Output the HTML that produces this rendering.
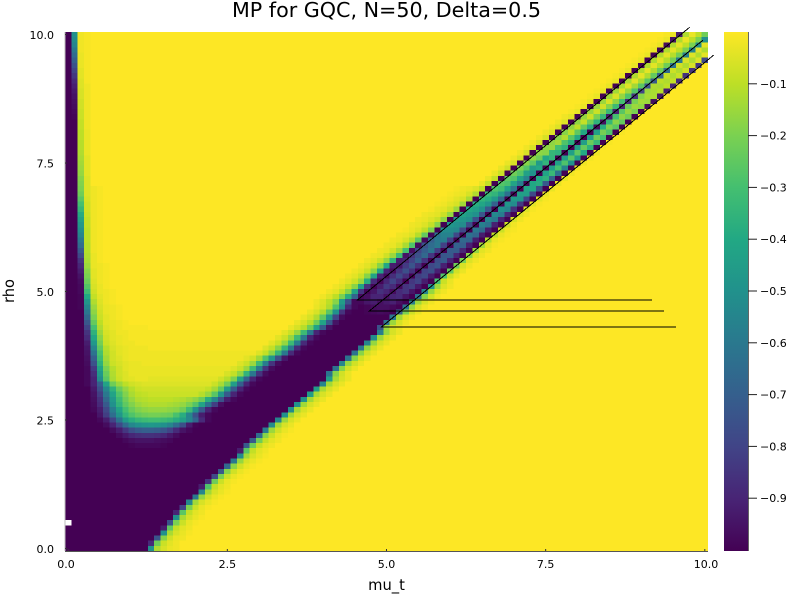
<!DOCTYPE html>
<html lang="en">
<head>
<meta charset="utf-8">
<title>MP for GQC, N=50, Delta=0.5</title>
<style>
html,body{margin:0;padding:0;background:#fff;width:800px;height:600px;overflow:hidden}
svg{display:block}
text{font-family:"DejaVu Sans","Liberation Sans",sans-serif;fill:#000}
</style>
</head>
<body>
<svg id="chart" xmlns="http://www.w3.org/2000/svg" width="800" height="600" viewBox="0 0 800 600">
<defs><linearGradient id="cbGrad" x1="0" y1="1" x2="0" y2="0"></linearGradient></defs>
<rect x="0" y="0" width="800" height="600" fill="#fff"/>
<text x="386.500" y="17" font-size="20.670" text-anchor="middle">MP for GQC, N=50, Delta=0.5</text>
<text x="386.500" y="590" font-size="14.700" text-anchor="middle">mu_t</text>
<text x="14" y="291" font-size="14.700" text-anchor="middle" transform="rotate(-90 14 291)">rho</text>
<g id="cells" shape-rendering="crispEdges"></g>
<g id="axes"></g>
<g id="lines" shape-rendering="crispEdges"></g>
<g id="colorbar"></g>
</svg>
<script>
// Axis ticks
const muTicks = [0, 2.5, 5, 7.5, 10];
const rhoTicks = [0, 2.5, 5, 7.5, 10];
const colorTicks = [-0.1, -0.2, -0.3, -0.4, -0.5, -0.6, -0.7, -0.8, -0.9];

// Grid coordinates
const muStep = 0.1;
const rhoStep = 0.1;
const gridCols = 101;

// Overlay line series (mu_t, rho)
const lineAMu = [9.17, 4.54, 9.76];
const lineARho = [4.83, 4.83, 10.14];
const lineBMu = [9.36, 4.73, 9.97];
const lineBRho = [4.62, 4.62, 9.89];
const lineCMu = [9.55, 4.92, 10.14];
const lineCRho = [4.31, 4.31, 9.60];

// Heatmap values in hundredths, row per rho (bottom first). [n,v] = n cells of v; missing tail = 0; null = no data.
const heatRows = [
[[13,-100],-50,-12,-6,-3,-2],
[[13,-100],-88,-22,-8,-4,-2],
[[14,-100],-74,-18,-7,-3,-2],
[[15,-100],-50,-13,-6,-3,-1],
[[15,-100],-92,-25,-9,-4,-2],
[null,[15,-100],-75,-20,-8,-3,-1],
[[17,-100],-50,-13,-6,-3,-1],
[[17,-100],-90,-26,-9,-4,-2],
[[18,-100],-80,-20,-8,-3,-1],
[[19,-100],-55,-14,-6,-3,-1],
[[20,-100],-60,-16,-7,-3,-1],
[[21,-100],-55,-14,-6,-3,-1],
[[21,-100],-92,-28,-9,-4,-2],
[[22,-100],-85,-22,-8,-3,-1],
[[23,-100],-78,-20,-8,-3,-1],
[[24,-100],-72,-18,-7,-3,-1],
[[25,-100],-66,-17,-7,-3,-1],
[[26,-100],-60,-16,-6,-3,-1],
[[27,-100],-52,-14,-6,-3,-1],
[[27,-100],-92,-26,-9,-4,-2],
[[10,-100],-99,-98,-98,-98,-98,-99,[12,-100],-72,-22,-9,-4,-2],
[[9,-100],-98,-96,-95,-95,-95,-96,-97,-98,[12,-100],-72,-22,-9,-4,-2],
[[8,-100],-97,-93,-89,-87,-86,-86,-87,-89,-93,-97,[12,-100],-65,-18,-8,-3,-1],
[[7,-100],-97,-92,-84,-76,-72,-70,-70,-71,-74,-80,-88,-95,-98,[11,-100],-58,-15,-7,-3,-1],
[[6,-100],-97,-90,-78,-65,-54,-50,-48,-47,-48,-50,-55,-64,-76,-92,-99,[11,-100],-52,-14,-6,-3],
[[5,-100],-98,-92,-80,-62,-46,-38,-34,-32,-31,-31,-32,-34,-38,-44,-54,-68,-88,-98,[10,-100],-55,-15,-6,-3],
[[5,-100],-94,-82,-64,-48,-35,-28,-24,-22,-21,-21,-22,-23,-29,-38,-55,-75,-92,-98,[11,-100],-50,-14,-6,-3],
[[4,-100],-98,-92,-78,-58,-42,-30,-23,-19,-17,-16,-16,-16,-17,-18,-22,-32,-50,-72,-90,-98,[11,-100],-52,-14,-6,-3],
[[4,-100],-97,-88,-72,-50,-35,-25,-19,-15,-13,-12,-12,-12,-13,-14,-16,-20,-27,-42,-62,-82,-96,[11,-100],-50,-14,-6,-3],
[[4,-100],-96,-86,-66,-47,-32,-22,-16,-12,-11,-10,-10,-10,-10,-11,-12,-14,-17,-23,-38,-55,-75,-92,-98,[10,-100],-50,-14,-6,-3],
[[4,-100],-95,-82,-60,-42,-28,-19,-13,-10,-9,[8,-8],-11,-16,-26,-48,-72,-90,-98,[10,-100],-45,-13,-6,-3],
[[4,-100],-93,-76,-54,-36,-23,-16,-11,-8,-7,[9,-7],-9,-14,-24,-46,-72,-90,-98,[10,-100],-45,-13,-6,-3],
[[3,-100],-98,-90,-70,-42,-22,-15,-10,-7,-6,-5,[10,-5],-8,-13,-22,-45,-70,-90,-98,[10,-100],-55,-14,-6,-3],
[[3,-100],-98,-90,-52,-26,-13,-8,-5,-4,-3,-3,[11,-4],-7,-11,-20,-42,-68,-90,-98,[10,-100],-45,-13,-6,-3],
[[3,-100],-98,-87,-47,-23,-12,-7,-5,-3,-3,-3,[12,-3],-6,-9,-17,-35,-60,-85,-97,[9,-100],-62,-18,-7,-3],
[[3,-100],-98,-83,-42,-20,-11,-7,-4,-3,-3,-3,[13,-3],-5,-8,-15,-32,-58,-85,-97,[9,-100],-62,-18,-7,-3],
[[3,-100],-97,-75,-36,-16,-8,-6,-4,-3,-3,-2,[14,-2],-5,-8,-15,-32,-58,-85,-97,[9,-100],-55,-16,-7,-3],
[[3,-100],-96,-70,-32,-14,-7,-5,-3,-2,-2,-2,[15,-2],-4,-7,-14,-28,-48,-75,-94,[9,-100],-62,-18,-7,-3],
[[3,-100],-95,-62,-29,-12,-7,-4,-3,-2,-2,-2,[17,-2],-5,-9,-18,-34,-60,-88,-98,[8,-100],-62,-18,-7,-3],
[[3,-100],-94,-55,-25,-11,-6,-4,-3,-2,-2,-2,[18,-1],-5,-9,-18,-34,-60,-88,-98,[8,-100],-60,-17,-7,-3],
[[3,-100],-92,-47,-21,-8,-5,-3,-2,-2,-1,-1,[19,-1],-4,-8,-16,-32,-58,-88,-98,[8,-100],-55,-16,-6,-3],
[[3,-100],-88,-41,-18,-7,-4,-3,-2,-1,-1,-1,[20,-1],-4,-8,-16,-32,-60,-90,-98,[8,-100],-52,-15,-6,-3],
[[3,-100],-85,-36,-15,-6,-4,-2,-2,-1,-1,-1,[21,-1],-4,-8,-16,-32,-60,-90,-98,[8,-100],-58,-16,-6,-3],
[[3,-100],-80,-30,-12,-5,-3,-2,-1,-1,-1,-1,[22,0],-3,-6,-11,-22,-42,-72,-95,[7,-100],-75,-15,-6,-3],
[[3,-100],-73,-24,-10,-4,-3,-2,-1,[26,0],-3,-6,-11,-22,-42,-72,-95,[7,-100],-62,-15,-6,-2],
[[3,-100],-67,-20,-8,-4,-2,-1,[28,0],-3,-6,-12,-25,-48,-80,-97,[7,-100],-60,-14,-5,-2],
[[3,-100],-60,-17,-7,-3,-2,-1,[29,0],-3,-6,-12,-26,-50,-85,-98,-100,-100,-99,-98,-97,-98,-100,-70,-20,-7,-3],
[[2,-100],-99,-55,-15,-6,-3,-2,-1,[30,0],-3,-6,-12,-28,-52,-88,-98,-100,-99,-97,-96,-96,-98,-100,-62,-16,-6,-2],
[[2,-100],-99,-48,-12,-5,-2,-1,[31,0],-2,-5,-10,-18,-45,-75,-98,-98,-94,-92,-96,-93,-91,-96,-100,-58,-15,-6,-2],
[[2,-100],-99,-40,-9,-4,-2,-1,[32,0],-2,-5,-10,-20,-38,-68,-98,-96,-90,-90,-96,-90,-88,-95,-100,-62,-18,-7,-2],
[[2,-100],-98,-32,-7,-3,-2,-1,[33,0],-2,-4,-9,-18,-42,-85,-99,-94,-86,-90,-97,-88,-85,-94,-100,-55,-16,-6,-2],
[[2,-100],-98,-27,-6,-3,-1,[35,0],-2,-4,-9,-18,-42,-85,-99,-92,-83,-88,-98,-85,-82,-93,-100,-50,-15,-5,-2],
[[2,-100],-97,-23,-5,-2,-1,[36,0],-2,-4,-8,-16,-38,-88,-99,-89,-80,-88,-100,-84,-80,-92,-100,-30,-8,-3],
[[2,-100],-95,-20,-4,-2,-1,[37,0],-2,-4,-8,-18,-42,-90,-98,-87,-78,-87,-100,-82,-78,-92,-100,-28,-8,-3],
[[2,-100],-92,-18,-4,-2,-1,[38,0],-2,-4,-8,-18,-42,-90,-97,-85,-76,-86,-100,-80,-76,-91,-100,-25,-7,-3],
[[2,-100],-89,-15,-3,-2,-1,[39,0],-2,-4,-8,-18,-40,-92,-95,-83,-74,-86,-100,-78,-74,-91,-100,-22,-6,-2],
[[2,-100],-85,-13,-3,-1,[41,0],-2,-4,-8,-16,-35,-92,-90,-80,-70,-85,-100,-76,-72,-90,-100,-20,-5,-2],
[[2,-100],-78,-12,-3,-1,[42,0],-2,-3,-7,-15,-32,-95,-85,-75,-66,-84,-100,-73,-72,-90,-100,-18,-5,-2],
[[2,-100],-72,-11,-2,-1,[43,0],-2,-3,-7,-14,-30,-96,-80,-70,-62,-82,-100,-71,-71,-90,-100,-16,-4,-2],
[[2,-100],-65,-11,-2,-1,[44,0],-2,-3,-6,-13,-28,-97,-75,-65,-60,-81,-100,-69,-70,-91,-100,-14,-4,-1],
[[2,-100],-60,-10,-2,-1,[45,0],-2,-3,-6,-12,-26,-98,-70,-60,-58,-80,-100,-66,-68,-92,-100,-12,-3,-1],
[[2,-100],-55,-10,-2,-1,[46,0],-2,-3,-5,-11,-24,-98,-62,-56,-56,-78,-100,-63,-67,-92,-100,-10,-3,-1],
[[2,-100],-51,-10,-2,-1,[47,0],-1,-3,-5,-10,-20,-100,-52,-52,-54,-78,-100,-60,-66,-92,-100,-8,-2,-1],
[[2,-100],-47,-9,-2,-1,[48,0],-2,-3,-5,-9,-18,-100,-48,-50,-52,-76,-100,-57,-62,-91,-100,-7,-2],
[[2,-100],-43,-9,-2,-1,[49,0],-2,-3,-5,-8,-17,-100,-46,-48,-51,-75,-100,-55,-60,-90,-100,-6,-2],
[[2,-100],-39,-8,-2,-1,[50,0],-2,-3,-4,-8,-16,-100,-43,-46,-50,-73,-100,-53,-58,-88,-100,-5,-2],
[[2,-100],-34,-7,-2,-1,[51,0],-1,-3,-4,-7,-15,-100,-41,-44,-50,-72,-100,-50,-55,-86,-100,-5,-1],
[[2,-100],-30,-7,-2,-1,[52,0],-1,-2,-4,-6,-14,-100,-38,-41,-48,-69,-100,-48,-52,-83,-100,-4,-1],
[[2,-100],-26,-6,-2,-1,[53,0],-1,-2,-4,-6,-13,-100,-35,-38,-46,-66,-100,-46,-48,-80,-100,-4,-1],
[[2,-100],-22,-5,-2,-1,[54,0],-1,-2,-3,-6,-12,-100,-32,-35,-45,-63,-100,-44,-44,-78,-100,-3],
[[2,-100],-20,-5,-2,-1,[55,0],-1,-2,-3,-5,-10,-100,-28,-31,-43,-60,-100,-42,-40,-75,-100,-3],
[[2,-100],-19,-5,[61,0],-3,-9,-100,-27,-29,-42,-58,-100,-40,-38,-72,-100,-3],
[[2,-100],-18,-5,[62,0],-3,-9,-100,-25,-28,-42,-55,-100,-40,-36,-68,-100,-3],
[[2,-100],-16,-4,[63,0],-3,-8,-100,-22,-27,-43,-50,-100,-42,-33,-62,-100,-2],
[[2,-100],-15,-4,[64,0],-3,-7,-100,-20,-27,-45,-40,-100,-45,-30,-55,-100,-2],
[[2,-100],-14,-4,[65,0],-3,-6,-100,-18,-26,-46,-35,-100,-44,-28,-50,-100,-2],
[[2,-100],-13,-4,[66,0],-2,-6,-100,-17,-22,-40,-35,-100,-44,-26,-45,-100,-2],
[[2,-100],-12,-3,[67,0],-2,-6,-100,-17,-18,-34,-36,-100,-44,-25,-40,-100,-2],
[[2,-100],-11,-3,[68,0],-2,-6,-100,-17,-16,-30,-36,-100,-44,-24,-36,-100,-1],
[[2,-100],-11,-3,[69,0],-2,-6,-100,-17,-14,-28,-38,-100,-44,-23,-33,-100,-1],
[[2,-100],-10,-3,[70,0],-2,-6,-100,-18,-12,-26,-40,-100,-44,-22,-30,-100,-1],
[[2,-100],-10,-3,[71,0],-2,-5,-100,-18,-11,-25,-40,-100,-42,-21,-28,-100,-1],
[[2,-100],-9,-2,[72,0],-2,-5,-100,-17,-10,-24,-38,-98,-38,-20,-26,-100,-1],
[[2,-100],-9,-2,[73,0],-2,-5,-100,-17,-9,-22,-36,-96,-34,-18,-24,-100],
[-100,-99,-8,-2,[74,0],-2,-4,-100,-16,-8,-20,-34,-94,-30,-17,-22,-100],
[-100,-98,-8,-2,[75,0],-1,-3,-100,-16,-8,-19,-33,-92,-26,-16,-20,-100],
[-100,-97,-7,-2,[76,0],-1,-3,-100,-15,-7,-18,-32,-90,-22,-15,-17,-98],
[-100,-96,-7,-2,[77,0],-1,-3,-100,-15,-6,-17,-30,-88,-20,-14,-15,-96],
[-100,-95,-6,-2,[78,0],-1,-3,-100,-14,-6,-16,-28,-85,-18,-13,-13,-94],
[-100,-93,-6,-2,[79,0],-1,-3,-100,-14,-5,-15,-27,-80,-15,-13,-11,-92],
[-100,-91,-5,-2,[80,0],-1,-3,-100,-13,-5,-14,-26,-75,-12,-13,-10,-90],
[-100,-88,-5,-1,[81,0],-1,-3,-100,-13,-4,-13,-25,-72,-10,-12,-9,-88],
[-100,-84,-4,-1,[82,0],-1,-3,-100,-12,-4,-12,-24,-68,-9,-12,-8,-86],
[-100,-80,-4,-1,[83,0],-1,-3,-100,-12,-4,-12,-23,-65,-8,-12,-7,-85],
[-100,-75,-3,-1,[84,0],-1,-3,-100,-12,-4,-11,-22,-62,-7,-12,-6,-84],
[-100,-70,-3,-1,[85,0],-1,-3,-100,-12,-4,-11,-21,-60,-6,-12,-5,-78],
[-100,-65,-3,-1,[86,0],-1,-3,-100,-12,-4,-11,-21,-57,-5,-12,-4],
[-100,-60,-2,-1,[87,0],-1,-3,-99,-12,-4,-10,-20,-55,-5,-12],
[-100,-55,-2,-1,[88,0],-1,-3,-97,-12,-4,-10,-20,-52,-4],
[-100,-52,-2,-1,[89,0],-1,-3,-95,-12,-3,-10,-20,-50],
[-100,-50,-2,-1,[90,0],-1,-3,-92,-12,-3,-10,-22]
];

// Viridis palette stops (colour scale definition)
const viridisStops = ["#440154","#482475","#414487","#355f8d","#2a788e","#21918c","#22a884","#44bf70","#7ad151","#bddf26","#fde725"];

const SVGNS = "http://www.w3.org/2000/svg";
const plotLeft = 65, plotTop = 32, plotRight = 708, plotBottom = 551;
const cellW = (plotRight - plotLeft) / gridCols;
const cellH = (plotBottom - plotTop) / heatRows.length;
function scaleX(mu) { return plotLeft + cellW / 2 + (mu / muStep) * cellW; }
function scaleY(rho) { return plotBottom - cellH / 2 - (rho / rhoStep) * cellH; }
const cbTop = 32, cbBottom = 550;
function scaleC(v) { return cbTop + (-v) * (cbBottom - cbTop); }

function hexRgb(h) { return [parseInt(h.slice(1,3),16), parseInt(h.slice(3,5),16), parseInt(h.slice(5,7),16)]; }
function colorFor(v) {
  const t = Math.max(0, Math.min(1, 1 + v)) * (viridisStops.length - 1);
  const i = Math.min(viridisStops.length - 2, Math.floor(t));
  const f = t - i;
  const a = hexRgb(viridisStops[i]), b = hexRgb(viridisStops[i + 1]);
  return "rgb(" + a.map(function (x, k) { return Math.round(x + (b[k] - x) * f); }).join(",") + ")";
}
function expandRow(row) {
  const out = [];
  row.forEach(function (e) {
    if (Array.isArray(e)) { for (let i = 0; i < e[0]; i++) out.push(e[1]); }
    else out.push(e);
  });
  while (out.length < gridCols) out.push(0);
  return out.slice(0, gridCols);
}
function mk(tag, attrs, parent) {
  const el = document.createElementNS(SVGNS, tag);
  Object.keys(attrs).forEach(function (k) { el.setAttribute(k, attrs[k]); });
  parent.appendChild(el);
  return el;
}

// Heatmap cells
const cellsG = document.getElementById("cells");
heatRows.forEach(function (row, r) {
  expandRow(row).forEach(function (val, c) {
    if (val === null) return;
    const rect = mk("rect", {
      x: (scaleX(c * muStep) - cellW / 2).toFixed(2),
      y: (scaleY(r * rhoStep) - cellH / 2).toFixed(2),
      width: cellW.toFixed(2),
      height: cellH.toFixed(2),
      fill: colorFor(val / 100)
    }, cellsG);
    
    
  });
});

// Axes
const axesG = document.getElementById("axes");
const leftAxis = mk("line", { x1: plotLeft, y1: plotTop, x2: plotLeft, y2: plotBottom, stroke: "#bdbdbd", "stroke-width": 1 }, axesG);


const bottomAxis = mk("line", { x1: plotLeft, y1: plotBottom + 0.5, x2: plotRight, y2: plotBottom + 0.5, stroke: "#555", "stroke-width": 1 }, axesG);



muTicks.forEach(function (v) {
  const x = scaleX(v);
  const tick = mk("line", { x1: x, y1: plotBottom, x2: x, y2: plotBottom - 2, stroke: "#333", "stroke-width": 1 }, axesG);
  
  
  const label = mk("text", { x: v === 0 ? 66 : (v === 10 ? 706 : x), y: 568, "font-size": 11, "text-anchor": "middle" }, axesG);
  label.textContent = v.toFixed(1);
  
  
});
rhoTicks.forEach(function (v) {
  const y = scaleY(v);
  const tick = mk("line", { x1: plotLeft, y1: y, x2: plotLeft + 2, y2: y, stroke: "#333", "stroke-width": 1 }, axesG);
  
  
  const label = mk("text", { x: 54, y: y + 4.5, "font-size": 11, "text-anchor": "end" }, axesG);
  label.textContent = v.toFixed(1);
  
  
});

// Overlay lines
const linesG = document.getElementById("lines");
[[lineAMu, lineARho, 'overlay-line-a'], [lineBMu, lineBRho, 'overlay-line-b'], [lineCMu, lineCRho, 'overlay-line-c']].forEach(function (s) {
  const pts = s[0].map(function (m, i) { return scaleX(m).toFixed(1) + "," + scaleY(s[1][i]).toFixed(1); }).join(" ");
  const line = mk("polyline", { points: pts, fill: "none", stroke: "#000", "stroke-width": 1 }, linesG);
  
  
});

// Colorbar
const grad = document.getElementById("cbGrad");
viridisStops.forEach(function (col, i) {
  mk("stop", { offset: (i / (viridisStops.length - 1)), "stop-color": col }, grad);
});
const cbG = document.getElementById("colorbar");
const cbRect = mk("rect", { x: 724, y: cbTop, width: 24, height: cbBottom - cbTop + 1, fill: "url(#cbGrad)" }, cbG);


const cbAxis = mk("line", { x1: 748.5, y1: cbTop, x2: 748.5, y2: cbBottom + 1, stroke: "#666", "stroke-width": 1 }, cbG);


colorTicks.forEach(function (v) {
  const y = scaleC(v);
  const tick = mk("line", { x1: 748, y1: y, x2: 757, y2: y, stroke: "#222", "stroke-width": 1 }, cbG);
  
  
  const label = mk("text", { x: 760, y: y + 4, "font-size": 11 }, cbG);
  label.textContent = "\u2212" + Math.abs(v).toFixed(1);
  
  
});
</script>
</body>
</html>
